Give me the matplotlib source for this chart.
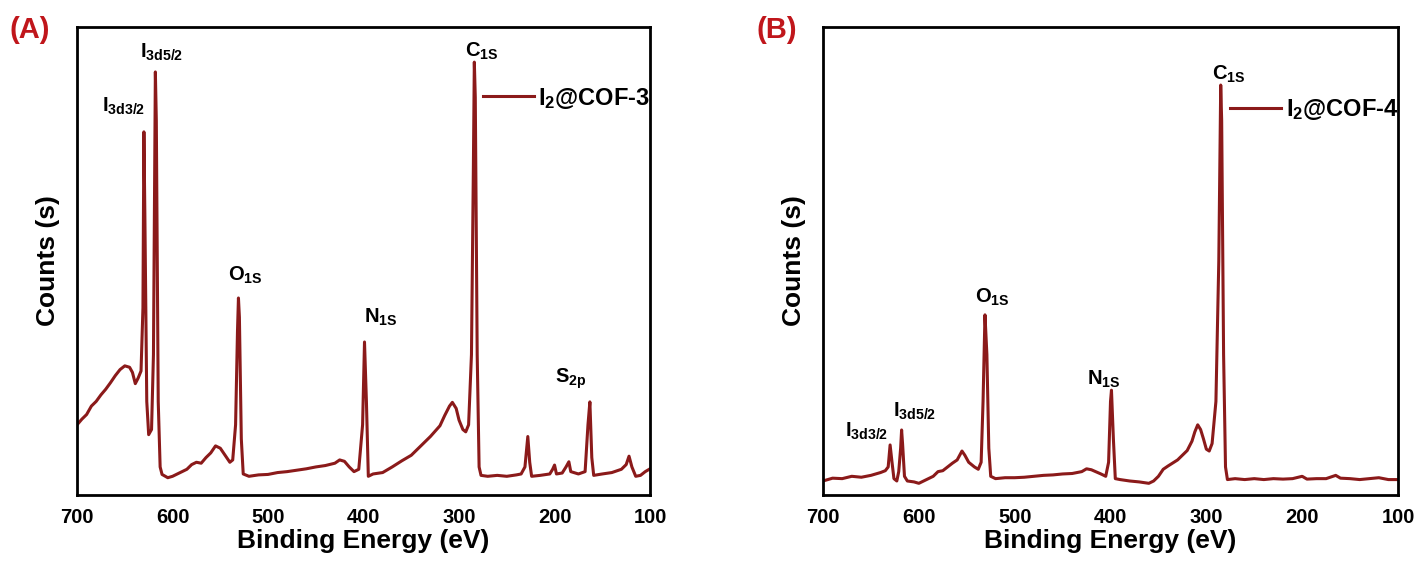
import matplotlib
matplotlib.use('Agg')
import matplotlib.pyplot as plt

plt.rcParams['font.family'] = ['Liberation Sans', 'DejaVu Sans']
plt.rcParams['font.weight'] = 'bold'
plt.rcParams['mathtext.fontset'] = 'custom'
plt.rcParams['mathtext.rm'] = 'Liberation Sans:bold'
plt.rcParams['mathtext.bf'] = 'Liberation Sans:bold'
plt.rcParams['mathtext.it'] = 'Liberation Sans:bold'

# ---- data (binding energy in eV, counts in relative units 0..1)
energyA = [700, 695, 690, 685, 680, 675, 670, 665, 660, 655, 650, 645, 642, 639, 636, 633,
           631, 630, 629, 627, 625, 622, 620, 618, 617, 615, 613, 611, 605, 600, 595, 590,
           585, 580, 575, 570, 565, 560, 555, 550, 545, 540, 537, 534, 532, 531, 530, 528,
           526, 520, 510, 500, 490, 480, 470, 460, 450, 440, 430, 425, 420, 415, 410, 405,
           401, 399, 397, 395, 390, 380, 370, 360, 350, 340, 330, 320, 315, 310, 307, 303,
           300, 296, 293, 290, 287, 285, 284, 283, 281, 279, 277, 270, 260, 250, 240, 235,
           231, 228, 226, 224, 215, 205, 202, 200, 198, 192, 188, 185, 183, 175, 168, 165,
           163, 161, 159, 150, 140, 130, 125, 122, 119, 115, 110, 105, 100]
countsA = [0.150, 0.162, 0.172, 0.190, 0.200, 0.214, 0.226, 0.240, 0.255, 0.268, 0.276, 0.273,
           0.262, 0.238, 0.250, 0.265, 0.400, 0.776, 0.600, 0.200, 0.129, 0.140, 0.300, 0.904,
           0.800, 0.200, 0.060, 0.044, 0.037, 0.040, 0.045, 0.050, 0.055, 0.065, 0.070, 0.068,
           0.080, 0.090, 0.105, 0.100, 0.085, 0.070, 0.075, 0.150, 0.350, 0.421, 0.380, 0.120,
           0.045, 0.040, 0.043, 0.044, 0.048, 0.050, 0.053, 0.056, 0.060, 0.063, 0.068, 0.075,
           0.072, 0.060, 0.050, 0.055, 0.150, 0.327, 0.200, 0.040, 0.045, 0.048, 0.060, 0.073,
           0.085, 0.105, 0.125, 0.148, 0.170, 0.190, 0.198, 0.185, 0.160, 0.140, 0.135, 0.150,
           0.300, 0.700, 0.925, 0.850, 0.300, 0.060, 0.042, 0.040, 0.042, 0.040, 0.043, 0.045,
           0.060, 0.125, 0.070, 0.040, 0.042, 0.045, 0.055, 0.064, 0.045, 0.047, 0.060, 0.071,
           0.050, 0.045, 0.050, 0.150, 0.199, 0.080, 0.042, 0.045, 0.048, 0.055, 0.065, 0.083,
           0.060, 0.040, 0.042, 0.050, 0.056]

energyB = [700, 690, 680, 670, 660, 650, 640, 635, 632, 630, 628, 626, 623, 621, 619, 618,
           617, 615, 612, 605, 600, 595, 590, 585, 580, 575, 570, 565, 560, 555, 552, 548,
           542, 538, 535, 533, 531, 529, 527, 525, 520, 510, 500, 490, 480, 470, 460, 450,
           440, 430, 425, 420, 410, 405, 402, 400, 399, 397, 395, 390, 380, 370, 360, 355,
           350, 345, 340, 330, 320, 315, 312, 309, 306, 303, 300, 297, 294, 290, 287, 285,
           284, 282, 280, 278, 270, 260, 250, 240, 230, 220, 210, 200, 195, 185, 175, 165,
           160, 150, 140, 130, 120, 110, 100]
countsB = [0.030, 0.036, 0.035, 0.040, 0.038, 0.042, 0.048, 0.052, 0.060, 0.107, 0.070, 0.035,
           0.030, 0.050, 0.100, 0.139, 0.110, 0.040, 0.030, 0.028, 0.025, 0.030, 0.035, 0.040,
           0.050, 0.052, 0.060, 0.068, 0.075, 0.094, 0.085, 0.070, 0.060, 0.055, 0.070, 0.200,
           0.385, 0.300, 0.100, 0.040, 0.035, 0.037, 0.037, 0.038, 0.040, 0.042, 0.043, 0.045,
           0.046, 0.050, 0.056, 0.054, 0.045, 0.040, 0.070, 0.200, 0.224, 0.120, 0.035, 0.033,
           0.030, 0.028, 0.025, 0.030, 0.040, 0.055, 0.062, 0.075, 0.095, 0.115, 0.135, 0.150,
           0.140, 0.120, 0.098, 0.094, 0.110, 0.200, 0.500, 0.876, 0.800, 0.300, 0.060, 0.033,
           0.035, 0.033, 0.035, 0.033, 0.035, 0.034, 0.035, 0.040, 0.034, 0.035, 0.035, 0.042,
           0.036, 0.035, 0.033, 0.035, 0.037, 0.033, 0.033]

xticks = [700, 600, 500, 400, 300, 200, 100]

# peak labels: (text, energy, height)
peaksA = [(r'$\mathbf{I_{3d5/2}}$', 634, 0.934),
          (r'$\mathbf{I_{3d3/2}}$', 674, 0.818),
          (r'$\mathbf{O_{1S}}$', 542, 0.459),
          (r'$\mathbf{N_{1S}}$', 399.5, 0.368),
          (r'$\mathbf{C_{1S}}$', 294, 0.936),
          (r'$\mathbf{S_{2p}}$', 199.5, 0.241)]
peaksB = [(r'$\mathbf{C_{1S}}$', 294, 0.887),
          (r'$\mathbf{O_{1S}}$', 541, 0.412),
          (r'$\mathbf{N_{1S}}$', 424.5, 0.235),
          (r'$\mathbf{I_{3d3/2}}$', 677, 0.124),
          (r'$\mathbf{I_{3d5/2}}$', 627, 0.167)]

lineColor = '#8b1a1a'

fig = plt.figure(figsize=(14.19, 5.64), dpi=100)
axA = fig.add_axes([0.0543, 0.1223, 0.4038, 0.8298])
axB = fig.add_axes([0.58, 0.1223, 0.4052, 0.8298])


def draw(ax, energy, counts, peaks, name, legY):
    ax.plot(energy, counts, color=lineColor, lw=2.2, label='I$_{\\mathbf{2}}$@COF-' + name)
    ax.set_xlim(700, 100)
    ax.set_ylim(0, 1)
    ax.set_xticks(xticks)
    ax.set_yticks([])
    ax.tick_params(axis='x', length=0, pad=9, labelsize=14.5)
    for s in ax.spines.values():
        s.set_linewidth(2.0)
    ax.set_xlabel('Binding Energy (eV)', fontsize=19, fontweight='bold', labelpad=2)
    ax.set_ylabel('Counts (s)', fontsize=19, fontweight='bold', labelpad=12)
    for txt, e, h in peaks:
        ax.text(e, h, txt, fontsize=14.5, ha='left', va='baseline')
    ax.legend(loc='center right', bbox_to_anchor=(1.0, legY), frameon=False,
              fontsize=17, handlelength=2.15, handletextpad=0.2,
              borderaxespad=0, borderpad=0)


draw(axA, energyA, countsA, peaksA, '3', 0.848)
draw(axB, energyB, countsB, peaksB, '4', 0.823)

fig.text(0.007, 0.947, '(A)', color='#c0161b', fontsize=21, fontweight='bold', va='center')
fig.text(0.533, 0.947, '(B)', color='#c0161b', fontsize=21, fontweight='bold', va='center')

fig.savefig('out.png', dpi=100)
